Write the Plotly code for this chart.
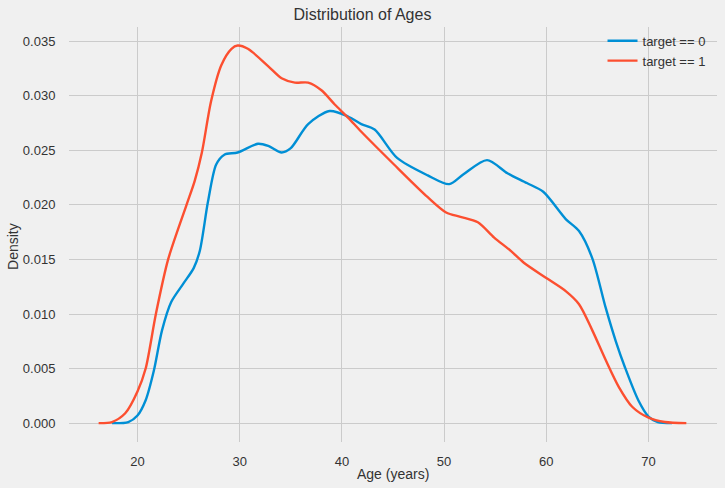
import plotly.graph_objects as go

# target == 0 (blue)
age0 = [17.5, 19.1, 20.0, 20.8, 21.6, 22.4, 23.3, 24.5, 25.5, 26.1, 26.9, 27.7, 28.5, 29.8,
        31.8, 32.8, 34.1, 35.0, 36.7, 38.8, 40.6, 41.9, 43.2, 45.4, 48.4, 50.5, 51.9,
        54.2, 56.2, 58.1, 59.7, 61.9, 63.2, 64.5, 65.8, 66.8, 67.7, 69.0, 70.0, 70.9, 72.3]
dens0 = [0.0, 0.0001, 0.0007, 0.0021, 0.0048, 0.0085, 0.0111, 0.0128, 0.0142, 0.0158, 0.0203,
         0.0237, 0.0246, 0.0248, 0.0256, 0.0254, 0.0248, 0.0252, 0.0274, 0.0286, 0.0281,
         0.0274, 0.0269, 0.0243, 0.0227, 0.0219, 0.0228, 0.0241, 0.0229, 0.0220, 0.0212,
         0.0187, 0.0176, 0.0151, 0.0106, 0.0075, 0.0051, 0.0021, 0.0006, 0.0001, 0.0]

# target == 1 (red)
age1 = [16.2, 17.5, 18.8, 20.0, 20.8, 21.8, 23.0, 24.8, 25.6, 26.3, 27.2, 28.2, 29.2, 29.8,
        30.8, 32.8, 34.1, 35.4, 36.7, 38.0, 39.3, 40.6, 41.9, 45.1, 48.4, 50.2, 51.6,
        53.3, 54.9, 56.5, 57.8, 60.0, 61.9, 63.2, 64.5, 65.8, 67.1, 68.4, 70.0, 71.6, 73.7]
dens1 = [0.0, 0.0001, 0.0009, 0.0029, 0.0050, 0.0100, 0.0150, 0.0200, 0.0222, 0.0248, 0.0295,
         0.0328, 0.0343, 0.0346, 0.0343, 0.0327, 0.0316, 0.0312, 0.0312, 0.0305, 0.0292,
         0.0280, 0.0267, 0.0237, 0.0207, 0.0193, 0.0189, 0.0184, 0.0170, 0.0158, 0.0147,
         0.0133, 0.0121, 0.0109, 0.0085, 0.0058, 0.0033, 0.0015, 0.0005, 0.0001, 0.0]

x_ticks = [20, 30, 40, 50, 60, 70]
y_ticks = [0.0, 0.005, 0.010, 0.015, 0.020, 0.025, 0.030, 0.035]

FONT = "Liberation Sans, Arial, sans-serif"

fig = go.Figure()
fig.add_trace(go.Scatter(x=age0, y=dens0, mode="lines", name="target == 0",
                         line=dict(color="#008fd5", width=2.4, shape="spline", smoothing=0.8)))
fig.add_trace(go.Scatter(x=age1, y=dens1, mode="lines", name="target == 1",
                         line=dict(color="#fc4f30", width=2.4, shape="spline", smoothing=0.8)))

fig.update_layout(
    width=725, height=488,
    margin=dict(l=69, r=8, t=27, b=46, autoexpand=False),
    paper_bgcolor="#f0f0f0", plot_bgcolor="#f0f0f0",
    font=dict(family=FONT, color="#333333", size=13),
    title=dict(text="Distribution of Ages", x=0.5, xanchor="center", y=0.97, yanchor="middle",
               font=dict(size=16, color="#333333")),
    showlegend=True,
    legend=dict(x=0.99, y=1.003, xanchor="right", yanchor="top", bgcolor="rgba(0,0,0,0)",
                font=dict(size=13, color="#333333"), itemwidth=30, tracegroupgap=0),
    xaxis=dict(range=[13.3, 76.7], tickvals=x_ticks, showgrid=True, gridcolor="#cbcbcb",
               gridwidth=1.2, zeroline=False, showline=False, automargin=False,
               ticks="outside", ticklen=7, tickcolor="rgba(0,0,0,0)",
               tickfont=dict(size=13)),
    yaxis=dict(range=[-0.00173, 0.0363], tickvals=y_ticks, tickformat=".3f", showgrid=True,
               gridcolor="#cbcbcb", gridwidth=1.2, zeroline=False, showline=False, automargin=False,
               ticks="outside", ticklen=10, tickcolor="rgba(0,0,0,0)",
               tickfont=dict(size=13)),
    annotations=[
        dict(text="Age (years)", xref="paper", yref="paper", x=0.5, y=-0.077,
             xanchor="center", yanchor="middle", showarrow=False, font=dict(size=14, color="#333333")),
        dict(text="Density", xref="paper", yref="paper", x=-0.0864, y=0.47, textangle=-90,
             xanchor="center", yanchor="middle", showarrow=False, font=dict(size=14, color="#333333")),
    ],
)

fig.write_html("out.html")
